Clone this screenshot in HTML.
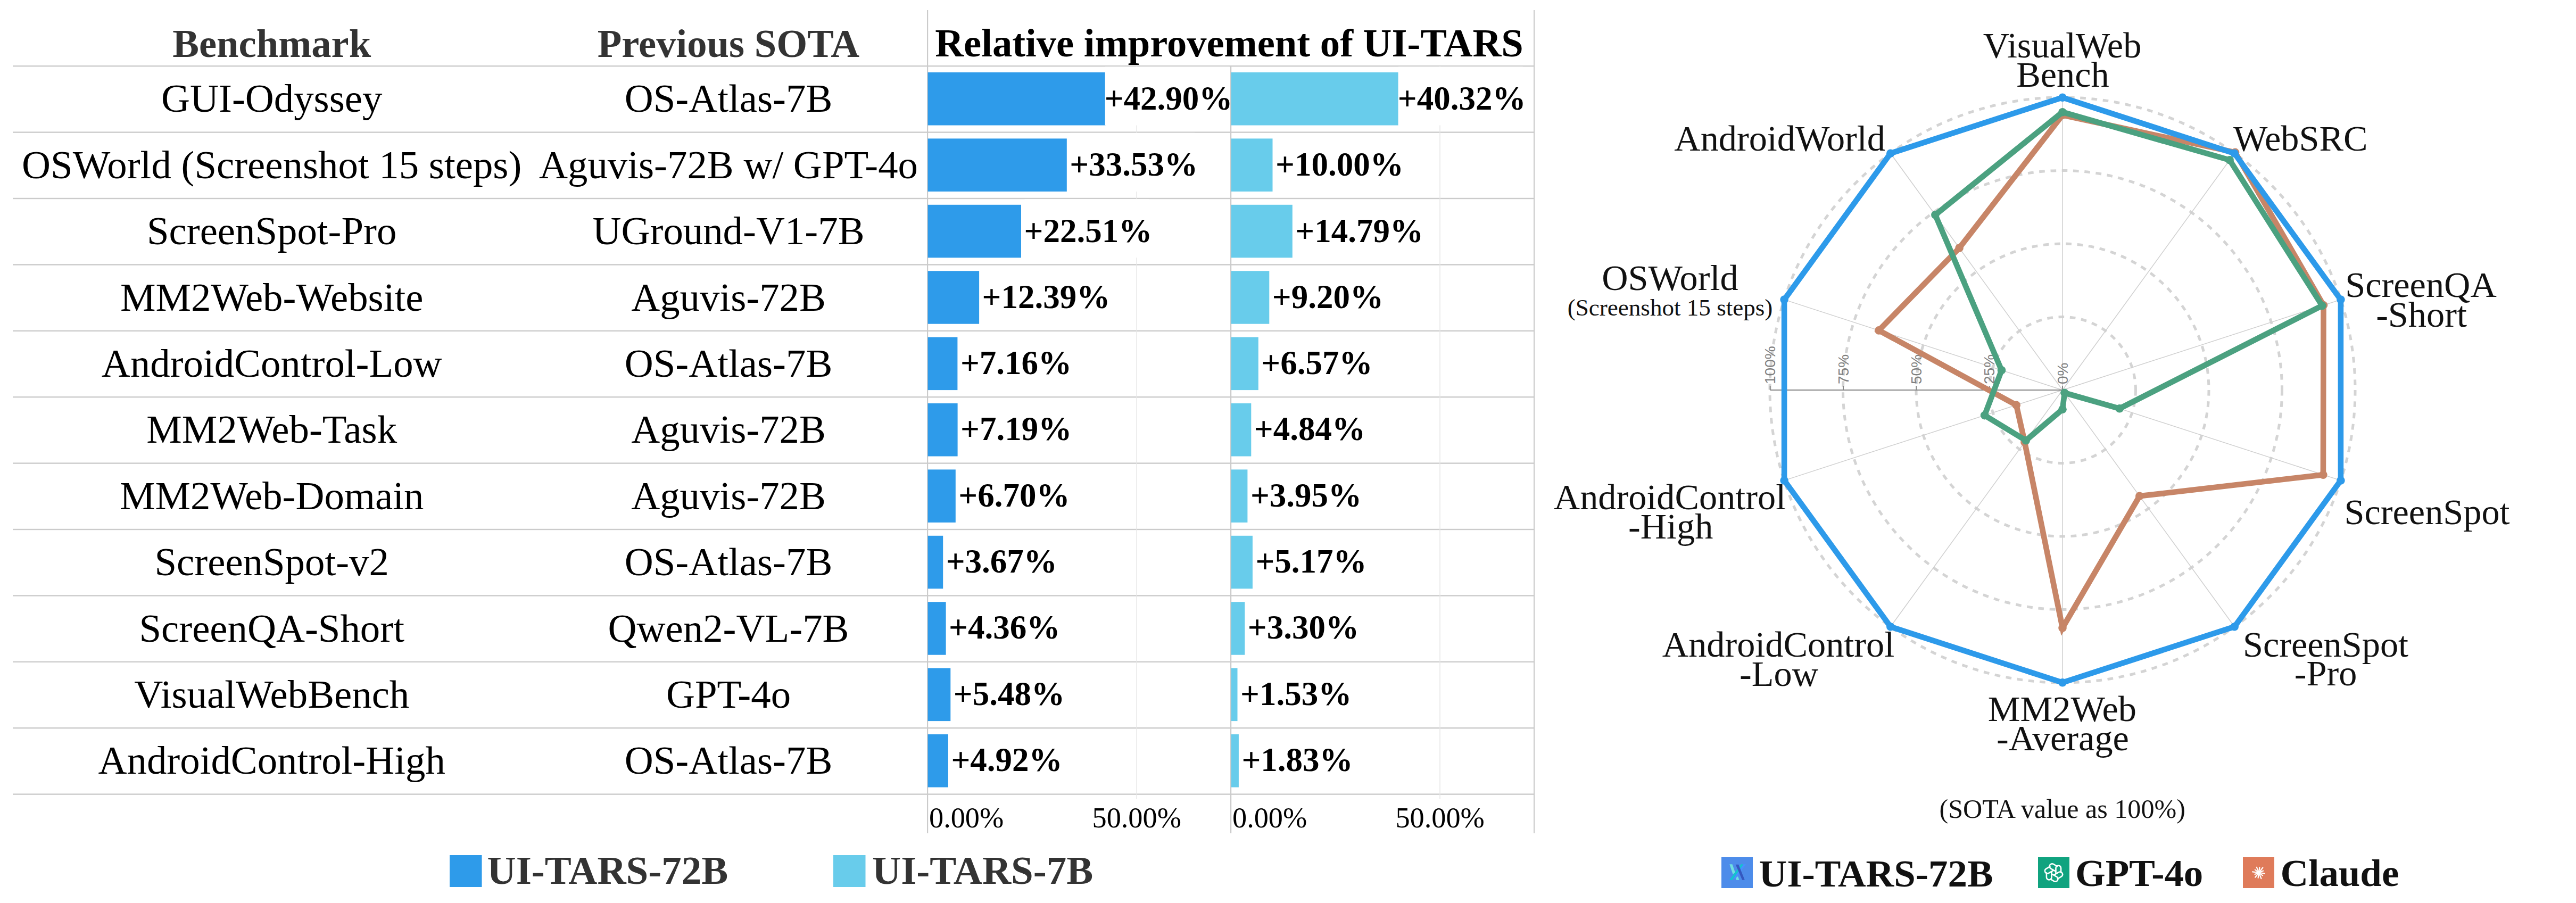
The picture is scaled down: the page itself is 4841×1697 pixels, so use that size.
<!DOCTYPE html>
<html><head><meta charset="utf-8"><title>UI-TARS relative improvement</title>
<style>html,body{margin:0;padding:0;background:#fff;width:4841px;height:1697px;overflow:hidden}</style>
</head><body>
<svg width="4841" height="1697" viewBox="0 0 4841 1697" style="position:absolute;left:0;top:0">
<rect width="4841" height="1697" fill="#fff"/>
<rect x="24" y="123.0" width="2860" height="2.4" fill="#cbcbcb"/>
<rect x="24" y="247.4" width="2860" height="2.4" fill="#cbcbcb"/>
<rect x="24" y="371.8" width="2860" height="2.4" fill="#cbcbcb"/>
<rect x="24" y="496.2" width="2860" height="2.4" fill="#cbcbcb"/>
<rect x="24" y="620.6" width="2860" height="2.4" fill="#cbcbcb"/>
<rect x="24" y="745.0" width="2860" height="2.4" fill="#cbcbcb"/>
<rect x="24" y="869.4" width="2860" height="2.4" fill="#cbcbcb"/>
<rect x="24" y="993.8" width="2860" height="2.4" fill="#cbcbcb"/>
<rect x="24" y="1118.2" width="2860" height="2.4" fill="#cbcbcb"/>
<rect x="24" y="1242.6" width="2860" height="2.4" fill="#cbcbcb"/>
<rect x="24" y="1367.0" width="2860" height="2.4" fill="#cbcbcb"/>
<rect x="24" y="1491.4" width="2860" height="2.4" fill="#cbcbcb"/>
<rect x="1742" y="19" width="2.2" height="1547" fill="#cbcbcb"/>
<rect x="2312" y="124.2" width="2.2" height="1441.8" fill="#cbcbcb"/>
<rect x="2882" y="19" width="2.2" height="1547" fill="#cbcbcb"/>
<rect x="2135.4" y="124.2" width="1.5" height="1377.8" fill="#e6e6e6"/>
<rect x="2705.3" y="124.2" width="1.5" height="1377.8" fill="#e6e6e6"/>
<text x="510.7" y="107.1" font-size="74.6" fill="#333" font-weight="bold" text-anchor="middle" font-family="Liberation Serif">Benchmark</text>
<text x="1369.0" y="107.1" font-size="74.6" fill="#333" font-weight="bold" text-anchor="middle" font-family="Liberation Serif">Previous SOTA</text>
<text x="2310.0" y="105.8" font-size="74.6" fill="#000" font-weight="bold" text-anchor="middle" font-family="Liberation Serif">Relative improvement of UI-TARS</text>
<text x="510.7" y="210.3" font-size="74.8" fill="#000" text-anchor="middle" font-family="Liberation Serif">GUI-Odyssey</text>
<text x="1369.0" y="210.3" font-size="74.8" fill="#000" text-anchor="middle" font-family="Liberation Serif">OS-Atlas-7B</text>
<rect x="1743.6" y="136.0" width="334.2" height="99.5" fill="#2e9bea"/>
<rect x="2313.6" y="136.0" width="314.1" height="99.5" fill="#68cceb"/>
<rect x="2076.7" y="125.4" width="234" height="110.1" fill="#fff"/>
<rect x="2627.8" y="125.4" width="234" height="110.1" fill="#fff"/>
<text x="2075.7" y="205.9" font-size="63" fill="#000" font-weight="bold" text-anchor="start" font-family="Liberation Serif">+42.90%</text>
<text x="2626.8" y="205.9" font-size="63" fill="#000" font-weight="bold" text-anchor="start" font-family="Liberation Serif">+40.32%</text>
<text x="510.7" y="334.7" font-size="74.8" fill="#000" text-anchor="middle" font-family="Liberation Serif">OSWorld (Screenshot 15 steps)</text>
<text x="1369.0" y="334.7" font-size="74.8" fill="#000" text-anchor="middle" font-family="Liberation Serif">Aguvis-72B w/ GPT-4o</text>
<rect x="1743.6" y="260.4" width="261.2" height="99.5" fill="#2e9bea"/>
<rect x="2313.6" y="260.4" width="77.9" height="99.5" fill="#68cceb"/>
<rect x="2011.3" y="249.8" width="234" height="110.1" fill="#fff"/>
<text x="2010.3" y="330.2" font-size="63" fill="#000" font-weight="bold" text-anchor="start" font-family="Liberation Serif">+33.53%</text>
<text x="2397.0" y="330.2" font-size="63" fill="#000" font-weight="bold" text-anchor="start" font-family="Liberation Serif">+10.00%</text>
<text x="510.7" y="459.1" font-size="74.8" fill="#000" text-anchor="middle" font-family="Liberation Serif">ScreenSpot-Pro</text>
<text x="1369.0" y="459.1" font-size="74.8" fill="#000" text-anchor="middle" font-family="Liberation Serif">UGround-V1-7B</text>
<rect x="1743.6" y="384.8" width="175.4" height="99.5" fill="#2e9bea"/>
<rect x="2313.6" y="384.8" width="115.2" height="99.5" fill="#68cceb"/>
<rect x="1925.5" y="374.2" width="234" height="110.1" fill="#fff"/>
<text x="1924.5" y="454.5" font-size="63" fill="#000" font-weight="bold" text-anchor="start" font-family="Liberation Serif">+22.51%</text>
<text x="2434.3" y="454.5" font-size="63" fill="#000" font-weight="bold" text-anchor="start" font-family="Liberation Serif">+14.79%</text>
<text x="510.7" y="583.5" font-size="74.8" fill="#000" text-anchor="middle" font-family="Liberation Serif">MM2Web-Website</text>
<text x="1369.0" y="583.5" font-size="74.8" fill="#000" text-anchor="middle" font-family="Liberation Serif">Aguvis-72B</text>
<rect x="1743.6" y="509.2" width="96.5" height="99.5" fill="#2e9bea"/>
<rect x="2313.6" y="509.2" width="71.7" height="99.5" fill="#68cceb"/>
<text x="1845.6" y="578.8" font-size="63" fill="#000" font-weight="bold" text-anchor="start" font-family="Liberation Serif">+12.39%</text>
<text x="2390.8" y="578.8" font-size="63" fill="#000" font-weight="bold" text-anchor="start" font-family="Liberation Serif">+9.20%</text>
<text x="510.7" y="707.9" font-size="74.8" fill="#000" text-anchor="middle" font-family="Liberation Serif">AndroidControl-Low</text>
<text x="1369.0" y="707.9" font-size="74.8" fill="#000" text-anchor="middle" font-family="Liberation Serif">OS-Atlas-7B</text>
<rect x="1743.6" y="633.6" width="55.8" height="99.5" fill="#2e9bea"/>
<rect x="2313.6" y="633.6" width="51.2" height="99.5" fill="#68cceb"/>
<text x="1804.9" y="703.1" font-size="63" fill="#000" font-weight="bold" text-anchor="start" font-family="Liberation Serif">+7.16%</text>
<text x="2370.3" y="703.1" font-size="63" fill="#000" font-weight="bold" text-anchor="start" font-family="Liberation Serif">+6.57%</text>
<text x="510.7" y="832.3" font-size="74.8" fill="#000" text-anchor="middle" font-family="Liberation Serif">MM2Web-Task</text>
<text x="1369.0" y="832.3" font-size="74.8" fill="#000" text-anchor="middle" font-family="Liberation Serif">Aguvis-72B</text>
<rect x="1743.6" y="758.0" width="56.0" height="99.5" fill="#2e9bea"/>
<rect x="2313.6" y="758.0" width="37.7" height="99.5" fill="#68cceb"/>
<text x="1805.1" y="827.4" font-size="63" fill="#000" font-weight="bold" text-anchor="start" font-family="Liberation Serif">+7.19%</text>
<text x="2356.8" y="827.4" font-size="63" fill="#000" font-weight="bold" text-anchor="start" font-family="Liberation Serif">+4.84%</text>
<text x="510.7" y="956.7" font-size="74.8" fill="#000" text-anchor="middle" font-family="Liberation Serif">MM2Web-Domain</text>
<text x="1369.0" y="956.7" font-size="74.8" fill="#000" text-anchor="middle" font-family="Liberation Serif">Aguvis-72B</text>
<rect x="1743.6" y="882.4" width="52.2" height="99.5" fill="#2e9bea"/>
<rect x="2313.6" y="882.4" width="30.8" height="99.5" fill="#68cceb"/>
<text x="1801.3" y="951.7" font-size="63" fill="#000" font-weight="bold" text-anchor="start" font-family="Liberation Serif">+6.70%</text>
<text x="2349.9" y="951.7" font-size="63" fill="#000" font-weight="bold" text-anchor="start" font-family="Liberation Serif">+3.95%</text>
<text x="510.7" y="1081.1" font-size="74.8" fill="#000" text-anchor="middle" font-family="Liberation Serif">ScreenSpot-v2</text>
<text x="1369.0" y="1081.1" font-size="74.8" fill="#000" text-anchor="middle" font-family="Liberation Serif">OS-Atlas-7B</text>
<rect x="1743.6" y="1006.8" width="28.6" height="99.5" fill="#2e9bea"/>
<rect x="2313.6" y="1006.8" width="40.3" height="99.5" fill="#68cceb"/>
<text x="1777.7" y="1076.0" font-size="63" fill="#000" font-weight="bold" text-anchor="start" font-family="Liberation Serif">+3.67%</text>
<text x="2359.4" y="1076.0" font-size="63" fill="#000" font-weight="bold" text-anchor="start" font-family="Liberation Serif">+5.17%</text>
<text x="510.7" y="1205.5" font-size="74.8" fill="#000" text-anchor="middle" font-family="Liberation Serif">ScreenQA-Short</text>
<text x="1369.0" y="1205.5" font-size="74.8" fill="#000" text-anchor="middle" font-family="Liberation Serif">Qwen2-VL-7B</text>
<rect x="1743.6" y="1131.2" width="34.0" height="99.5" fill="#2e9bea"/>
<rect x="2313.6" y="1131.2" width="25.7" height="99.5" fill="#68cceb"/>
<text x="1783.1" y="1200.3" font-size="63" fill="#000" font-weight="bold" text-anchor="start" font-family="Liberation Serif">+4.36%</text>
<text x="2344.8" y="1200.3" font-size="63" fill="#000" font-weight="bold" text-anchor="start" font-family="Liberation Serif">+3.30%</text>
<text x="510.7" y="1329.9" font-size="74.8" fill="#000" text-anchor="middle" font-family="Liberation Serif">VisualWebBench</text>
<text x="1369.0" y="1329.9" font-size="74.8" fill="#000" text-anchor="middle" font-family="Liberation Serif">GPT-4o</text>
<rect x="1743.6" y="1255.6" width="42.7" height="99.5" fill="#2e9bea"/>
<rect x="2313.6" y="1255.6" width="11.9" height="99.5" fill="#68cceb"/>
<text x="1791.8" y="1324.6" font-size="63" fill="#000" font-weight="bold" text-anchor="start" font-family="Liberation Serif">+5.48%</text>
<text x="2331.0" y="1324.6" font-size="63" fill="#000" font-weight="bold" text-anchor="start" font-family="Liberation Serif">+1.53%</text>
<text x="510.7" y="1454.3" font-size="74.8" fill="#000" text-anchor="middle" font-family="Liberation Serif">AndroidControl-High</text>
<text x="1369.0" y="1454.3" font-size="74.8" fill="#000" text-anchor="middle" font-family="Liberation Serif">OS-Atlas-7B</text>
<rect x="1743.6" y="1380.0" width="38.3" height="99.5" fill="#2e9bea"/>
<rect x="2313.6" y="1380.0" width="14.3" height="99.5" fill="#68cceb"/>
<text x="1787.4" y="1448.9" font-size="63" fill="#000" font-weight="bold" text-anchor="start" font-family="Liberation Serif">+4.92%</text>
<text x="2333.4" y="1448.9" font-size="63" fill="#000" font-weight="bold" text-anchor="start" font-family="Liberation Serif">+1.83%</text>
<text x="1746.0" y="1555.2" font-size="54.3" fill="#000" text-anchor="start" font-family="Liberation Serif">0.00%</text>
<text x="2136.2" y="1555.2" font-size="54.3" fill="#000" text-anchor="middle" font-family="Liberation Serif">50.00%</text>
<text x="2316.0" y="1555.2" font-size="54.3" fill="#000" text-anchor="start" font-family="Liberation Serif">0.00%</text>
<text x="2706.1" y="1555.2" font-size="54.3" fill="#000" text-anchor="middle" font-family="Liberation Serif">50.00%</text>
<rect x="845" y="1607" width="60.5" height="60" fill="#2e9bea"/>
<text x="915.5" y="1661.0" font-size="75" fill="#333" font-weight="bold" text-anchor="start" font-family="Liberation Serif">UI-TARS-72B</text>
<rect x="1566" y="1607" width="60.5" height="60" fill="#68cceb"/>
<text x="1639.0" y="1661.0" font-size="75" fill="#333" font-weight="bold" text-anchor="start" font-family="Liberation Serif">UI-TARS-7B</text>
<circle cx="3876.0" cy="733.0" r="137.50" fill="none" stroke="#d4d4d4" stroke-width="5" stroke-dasharray="10.67 10.67"/>
<circle cx="3876.0" cy="733.0" r="275.00" fill="none" stroke="#d4d4d4" stroke-width="5" stroke-dasharray="10.67 10.67"/>
<circle cx="3876.0" cy="733.0" r="412.50" fill="none" stroke="#d4d4d4" stroke-width="5" stroke-dasharray="10.67 10.67"/>
<circle cx="3876.0" cy="733.0" r="550.00" fill="none" stroke="#d4d4d4" stroke-width="5" stroke-dasharray="10.67 10.67"/>
<line x1="3876.0" y1="733.0" x2="3876.0" y2="183.2" stroke="#cfcfcf" stroke-width="1.5"/>
<line x1="3876.0" y1="733.0" x2="4199.2" y2="288.2" stroke="#cfcfcf" stroke-width="1.5"/>
<line x1="3876.0" y1="733.0" x2="4398.9" y2="563.1" stroke="#cfcfcf" stroke-width="1.5"/>
<line x1="3876.0" y1="733.0" x2="4398.9" y2="902.9" stroke="#cfcfcf" stroke-width="1.5"/>
<line x1="3876.0" y1="733.0" x2="4199.2" y2="1177.8" stroke="#cfcfcf" stroke-width="1.5"/>
<line x1="3876.0" y1="733.0" x2="3876.0" y2="1282.8" stroke="#cfcfcf" stroke-width="1.5"/>
<line x1="3876.0" y1="733.0" x2="3552.8" y2="1177.8" stroke="#cfcfcf" stroke-width="1.5"/>
<line x1="3876.0" y1="733.0" x2="3353.1" y2="902.9" stroke="#cfcfcf" stroke-width="1.5"/>
<line x1="3876.0" y1="733.0" x2="3353.1" y2="563.1" stroke="#cfcfcf" stroke-width="1.5"/>
<line x1="3876.0" y1="733.0" x2="3552.8" y2="288.2" stroke="#cfcfcf" stroke-width="1.5"/>
<line x1="3326.7" y1="733.0" x2="3876.0" y2="733.0" stroke="#888" stroke-width="2"/>
<line x1="3876.0" y1="733.0" x2="3876.0" y2="725.0" stroke="#888" stroke-width="2"/>
<text transform="translate(3885.5,722.0) rotate(-90)" font-size="28" fill="#808080" font-family="Liberation Sans">0%</text>
<line x1="3738.7" y1="733.0" x2="3738.7" y2="725.0" stroke="#888" stroke-width="2"/>
<text transform="translate(3748.2,722.0) rotate(-90)" font-size="28" fill="#808080" font-family="Liberation Sans">25%</text>
<line x1="3601.3" y1="733.0" x2="3601.3" y2="725.0" stroke="#888" stroke-width="2"/>
<text transform="translate(3610.8,722.0) rotate(-90)" font-size="28" fill="#808080" font-family="Liberation Sans">50%</text>
<line x1="3464.0" y1="733.0" x2="3464.0" y2="725.0" stroke="#888" stroke-width="2"/>
<text transform="translate(3473.5,722.0) rotate(-90)" font-size="28" fill="#808080" font-family="Liberation Sans">75%</text>
<line x1="3326.7" y1="733.0" x2="3326.7" y2="725.0" stroke="#888" stroke-width="2"/>
<text transform="translate(3336.2,722.0) rotate(-90)" font-size="28" fill="#808080" font-family="Liberation Sans">100%</text>
<polygon points="3876.0,216.2 4200.5,286.4 4366.5,573.6 4365.9,892.2 4020.8,932.3 3876.0,1180.0 3804.9,830.9 3789.2,761.2 3530.9,620.9 3682.1,466.1" fill="none" stroke="#c78567" stroke-width="10.6" stroke-linejoin="miter"/>
<circle cx="3876.0" cy="216.2" r="7.8" fill="#c78567"/>
<circle cx="4200.5" cy="286.4" r="7.8" fill="#c78567"/>
<circle cx="4366.5" cy="573.6" r="7.8" fill="#c78567"/>
<circle cx="4365.9" cy="892.2" r="7.8" fill="#c78567"/>
<circle cx="4020.8" cy="932.3" r="7.8" fill="#c78567"/>
<circle cx="3876.0" cy="1180.0" r="7.8" fill="#c78567"/>
<circle cx="3804.9" cy="830.9" r="7.8" fill="#c78567"/>
<circle cx="3789.2" cy="761.2" r="7.8" fill="#c78567"/>
<circle cx="3530.9" cy="620.9" r="7.8" fill="#c78567"/>
<circle cx="3682.1" cy="466.1" r="7.8" fill="#c78567"/>
<polygon points="3876.0,210.7 4190.1,300.7 4363.9,574.5 3983.2,767.8 3879.9,738.3 3876.0,769.3 3807.2,827.7 3729.6,780.6 3761.5,695.8 3636.9,403.8" fill="none" stroke="#4ba180" stroke-width="10.6" stroke-linejoin="miter"/>
<circle cx="3876.0" cy="210.7" r="7.8" fill="#4ba180"/>
<circle cx="4190.1" cy="300.7" r="7.8" fill="#4ba180"/>
<circle cx="4363.9" cy="574.5" r="7.8" fill="#4ba180"/>
<circle cx="3983.2" cy="767.8" r="7.8" fill="#4ba180"/>
<circle cx="3879.9" cy="738.3" r="7.8" fill="#4ba180"/>
<circle cx="3876.0" cy="769.3" r="7.8" fill="#4ba180"/>
<circle cx="3807.2" cy="827.7" r="7.8" fill="#4ba180"/>
<circle cx="3729.6" cy="780.6" r="7.8" fill="#4ba180"/>
<circle cx="3761.5" cy="695.8" r="7.8" fill="#4ba180"/>
<circle cx="3636.9" cy="403.8" r="7.8" fill="#4ba180"/>
<polygon points="3876.0,183.2 4199.2,288.2 4398.9,563.1 4398.9,902.9 4199.2,1177.8 3876.0,1282.8 3552.8,1177.8 3353.1,902.9 3353.1,563.1 3552.8,288.2" fill="none" stroke="#2d9aea" stroke-width="10.6" stroke-linejoin="miter"/>
<circle cx="3876.0" cy="183.2" r="7.8" fill="#2d9aea"/>
<circle cx="4199.2" cy="288.2" r="7.8" fill="#2d9aea"/>
<circle cx="4398.9" cy="563.1" r="7.8" fill="#2d9aea"/>
<circle cx="4398.9" cy="902.9" r="7.8" fill="#2d9aea"/>
<circle cx="4199.2" cy="1177.8" r="7.8" fill="#2d9aea"/>
<circle cx="3876.0" cy="1282.8" r="7.8" fill="#2d9aea"/>
<circle cx="3552.8" cy="1177.8" r="7.8" fill="#2d9aea"/>
<circle cx="3353.1" cy="902.9" r="7.8" fill="#2d9aea"/>
<circle cx="3353.1" cy="563.1" r="7.8" fill="#2d9aea"/>
<circle cx="3552.8" cy="288.2" r="7.8" fill="#2d9aea"/>
<text x="3875.5" y="108.4" font-size="68.3" fill="#111" text-anchor="middle" font-family="Liberation Serif">VisualWeb</text>
<text x="3876.5" y="162.9" font-size="68.3" fill="#111" text-anchor="middle" font-family="Liberation Serif">Bench</text>
<text x="4197.0" y="283.4" font-size="68.3" fill="#111" text-anchor="start" font-family="Liberation Serif">WebSRC</text>
<text x="3543.0" y="283.2" font-size="68.3" fill="#111" text-anchor="end" font-family="Liberation Serif">AndroidWorld</text>
<text x="4549.5" y="557.8" font-size="68.3" fill="#111" text-anchor="middle" font-family="Liberation Serif">ScreenQA</text>
<text x="4550.5" y="614.0" font-size="68.3" fill="#111" text-anchor="middle" font-family="Liberation Serif">-Short</text>
<text x="3138.4" y="544.7" font-size="68.3" fill="#111" text-anchor="middle" font-family="Liberation Serif">OSWorld</text>
<text x="3138.5" y="592.5" font-size="45.1" fill="#111" text-anchor="middle" font-family="Liberation Serif">(Screenshot 15 steps)</text>
<text x="4405.5" y="985.3" font-size="68.3" fill="#111" text-anchor="start" font-family="Liberation Serif">ScreenSpot</text>
<text x="3138.0" y="957.1" font-size="68.3" fill="#111" text-anchor="middle" font-family="Liberation Serif">AndroidControl</text>
<text x="3139.7" y="1012.0" font-size="68.3" fill="#111" text-anchor="middle" font-family="Liberation Serif">-High</text>
<text x="3342.0" y="1233.8" font-size="68.3" fill="#111" text-anchor="middle" font-family="Liberation Serif">AndroidControl</text>
<text x="3343.0" y="1289.1" font-size="68.3" fill="#111" text-anchor="middle" font-family="Liberation Serif">-Low</text>
<text x="4370.5" y="1234.3" font-size="68.3" fill="#111" text-anchor="middle" font-family="Liberation Serif">ScreenSpot</text>
<text x="4370.6" y="1288.4" font-size="68.3" fill="#111" text-anchor="middle" font-family="Liberation Serif">-Pro</text>
<text x="3875.4" y="1355.2" font-size="68.3" fill="#111" text-anchor="middle" font-family="Liberation Serif">MM2Web</text>
<text x="3876.4" y="1410.2" font-size="68.3" fill="#111" text-anchor="middle" font-family="Liberation Serif">-Average</text>
<text x="3875.7" y="1536.6" font-size="50.15" fill="#111" text-anchor="middle" font-family="Liberation Serif">(SOTA value as 100%)</text>
<rect x="3235" y="1611" width="59" height="58" fill="#4d8cea"/>
<g transform="translate(3235,1611)"><polygon points="15.3,13.3 20.5,13.3 26,29 21.5,32" fill="#6fe0e0"/><polygon points="26.7,38 31,36 33.5,42.8 28,42.8" fill="#6fe0e0"/><polygon points="36.8,13.3 41.5,13.3 20.5,42.8 15,42.8" fill="#12c3d0"/><polygon points="41.5,13.3 46.1,13.3 27,40 23,40" fill="#4a90ff"/><polygon points="26.7,13.7 32.2,13.7 43.8,42.8 39.1,42.8" fill="#3558c0"/></g>
<text x="3305.5" y="1665.5" font-size="72.9" fill="#111" font-weight="bold" text-anchor="start" font-family="Liberation Serif">UI-TARS-72B</text>
<rect x="3830" y="1611" width="59" height="58" fill="#10a37f"/>
<g transform="translate(3859.5,1640) scale(0.86)" fill="none" stroke="#fff" stroke-width="3" stroke-linejoin="round"><path id="lk" d="M4.6,3.2 L4.6,-10 A5.6,5.6 0 0 1 15.8,-10 L15.8,0.8"/><use href="#lk" transform="rotate(60)"/><use href="#lk" transform="rotate(120)"/><use href="#lk" transform="rotate(180)"/><use href="#lk" transform="rotate(240)"/><use href="#lk" transform="rotate(300)"/></g>
<text x="3900.0" y="1664.7" font-size="72.9" fill="#111" font-weight="bold" text-anchor="start" font-family="Liberation Serif">GPT-4o</text>
<rect x="4215" y="1611" width="59" height="58" fill="#df7b5a"/>
<g transform="translate(4245,1640)" stroke="#fff" stroke-width="2.2" stroke-linecap="round"><line x1="0" y1="0" x2="10.9" y2="1.5"/><line x1="0" y1="0" x2="7.1" y2="5.5"/><line x1="0" y1="0" x2="4.5" y2="11.1"/><line x1="0" y1="0" x2="-1.4" y2="9.9"/><line x1="0" y1="0" x2="-6.8" y2="8.7"/><line x1="0" y1="0" x2="-7.4" y2="3.0"/><line x1="0" y1="0" x2="-11.9" y2="-1.7"/><line x1="0" y1="0" x2="-7.1" y2="-5.5"/><line x1="0" y1="0" x2="-4.1" y2="-10.2"/><line x1="0" y1="0" x2="1.4" y2="-9.9"/><line x1="0" y1="0" x2="7.4" y2="-9.5"/><line x1="0" y1="0" x2="8.3" y2="-3.4"/><circle r="3.2" fill="#fff" stroke="none"/></g>
<text x="4285.5" y="1664.7" font-size="72.9" fill="#111" font-weight="bold" text-anchor="start" font-family="Liberation Serif">Claude</text>
</svg>
</body></html>
